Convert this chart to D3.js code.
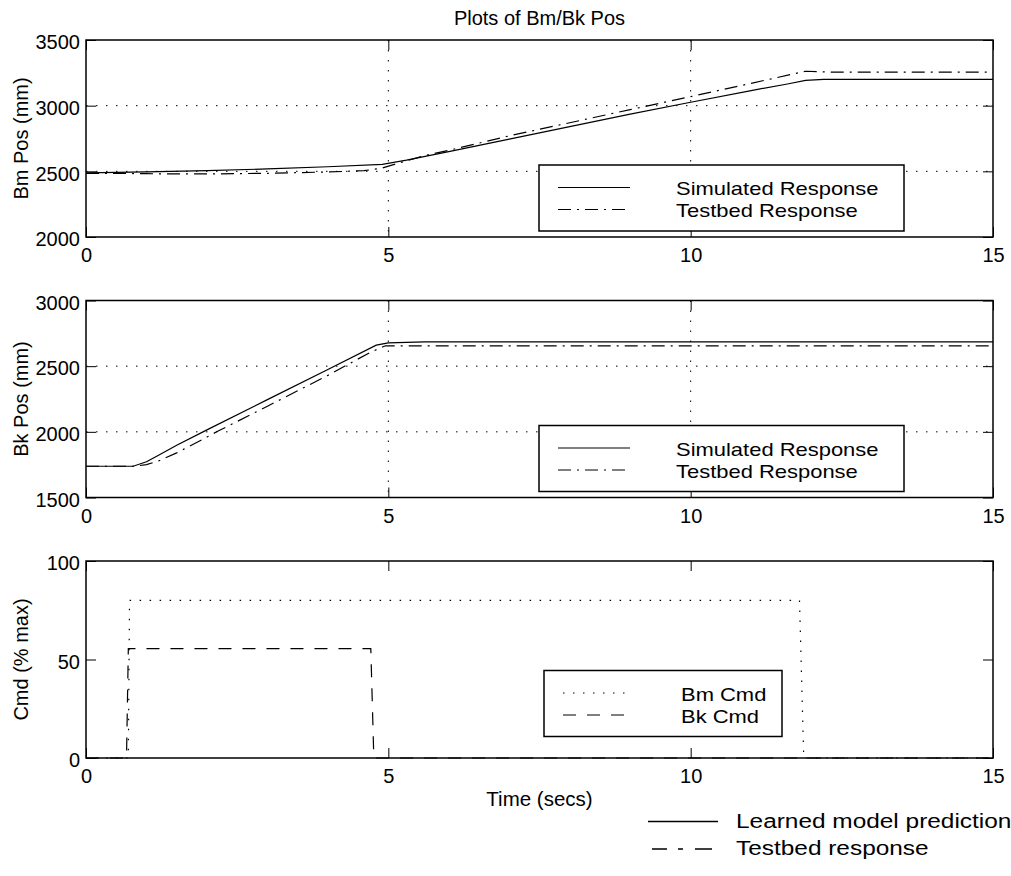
<!DOCTYPE html>
<html>
<head>
<meta charset="utf-8">
<script src="https://cdn.jsdelivr.net/npm/d3@7/dist/d3.min.js"></script>
<style>
  body { margin: 0; background: #fff; }
  text { font-family: "Liberation Sans", Arial, Helvetica, sans-serif; fill: #000; }
</style>
</head>
<body>
<div id="vis"></div>
<script>
// ---- data ----
var timeTicks = [0, 5, 10, 15];

// Bm position (mm)
var bmSimTime = [0, 1, 2, 3, 4, 4.9, 5.3, 6, 7, 8, 9, 10, 11, 11.6, 11.9, 12.2, 15];
var bmSimPos  = [2488, 2496, 2506, 2518, 2535, 2553, 2585, 2650, 2745, 2840, 2935, 3026, 3115, 3165, 3192, 3200, 3200];
var bmTestTime = [0, 0.5, 1, 1.5, 2, 3, 4, 4.6, 4.9, 5.3, 5.6, 6, 7, 8, 9, 10, 11, 11.9, 12.3, 13, 15];
var bmTestPos  = [2485, 2485, 2482, 2480, 2480, 2485, 2495, 2505, 2525, 2580, 2620, 2660, 2770, 2870, 2970, 3069, 3170, 3262, 3256, 3255, 3255];
var bmTicks = [2000, 2500, 3000, 3500];

// Bk position (mm)
var bkSimTime = [0, 0.78, 1, 1.2, 1.5, 2, 3, 4, 4.8, 5, 5.6, 15];
var bkSimPos  = [1738, 1738, 1772, 1822, 1898, 2015, 2245, 2475, 2660, 2678, 2685, 2685];
var bkTestTime = [0, 0.8, 1, 1.2, 1.5, 2, 2.16, 3, 4, 4.7, 4.95, 15];
var bkTestPos  = [1738, 1738, 1750, 1778, 1840, 1960, 2000, 2195, 2430, 2605, 2655, 2655];
var bkTicks = [1500, 2000, 2500, 3000];

// commands (% max)
var bmCmdTime = [0, 0.70, 0.72, 11.80, 11.87, 15];
var bmCmdVal  = [0, 0, 80, 80, 0, 0];
var bkCmdTime = [0, 0.67, 0.70, 4.71, 4.76, 15];
var bkCmdVal  = [0, 0, 55.5, 55.5, 0, 0];
var cmdTicks = [0, 50, 100];

var chartTitle = 'Plots of Bm/Bk Pos';
var responseNames = ['Simulated Response', 'Testbed Response'];
var cmdNames = ['Bm Cmd', 'Bk Cmd'];
var footNames = ['Learned model prediction', 'Testbed response'];

// ---- layout ----
var width = 1011;
var height = 876;
var left = 86;
var right = 993;
var panelH = 197;
var dotted = '1.5,8.5';
var dashDot = '13,6,2,6';
var dashed = '13,11';

var svg = d3.select('#vis')
  .append('svg')
  .attr('width', width)
  .attr('height', height);

var x = d3.scaleLinear().domain([0, 15]).range([left, right]);

// the original type is set a little wider than Liberation Sans, so stretch it
function stretchText(sel, ratio) {
  sel.each(function () {
    var t = d3.select(this);
    var w = this.getComputedTextLength();
    t.attr('textLength', w * ratio).attr('lengthAdjust', 'spacingAndGlyphs');
  });
}

function drawPanel(top, yDomain, yTicks, yLabel, grid) {
  var y = d3.scaleLinear().domain(yDomain).range([top + panelH, top]);
  var g = svg.append('g');

  if (grid) {
    g.selectAll('.hgrid')
      .data(yTicks.slice(1, -1))
      .enter()
      .append('line')
      .attr('x1', left)
      .attr('x2', right)
      .attr('y1', function (d) { return y(d); })
      .attr('y2', function (d) { return y(d); })
      .attr('stroke', '#000')
      .attr('stroke-width', 1)
      .attr('stroke-dasharray', dotted);

    g.selectAll('.vgrid')
      .data(timeTicks.slice(1, -1))
      .enter()
      .append('line')
      .attr('x1', function (d) { return x(d); })
      .attr('x2', function (d) { return x(d); })
      .attr('y1', top)
      .attr('y2', top + panelH)
      .attr('stroke', '#000')
      .attr('stroke-width', 1)
      .attr('stroke-dasharray', dotted);
  }

  var axLeft = g.append('g')
    .attr('transform', 'translate(' + left + ',0)')
    .call(d3.axisLeft(y).tickValues(yTicks).tickFormat(d3.format('d'))
      .tickSize(-10).tickSizeOuter(0).tickPadding(6));
  axLeft.selectAll('text').attr('dy', '0.44em');

  g.append('g')
    .attr('transform', 'translate(' + right + ',0)')
    .call(d3.axisRight(y).tickValues(yTicks).tickSize(-10).tickSizeOuter(0).tickFormat(''));

  g.append('g')
    .attr('transform', 'translate(0,' + top + ')')
    .call(d3.axisTop(x).tickValues(timeTicks).tickSize(-10).tickSizeOuter(0).tickFormat(''));

  g.append('g')
    .attr('transform', 'translate(0,' + (top + panelH) + ')')
    .call(d3.axisBottom(x).tickValues(timeTicks).tickFormat(d3.format('d'))
      .tickSize(-10).tickSizeOuter(0).tickPadding(11));

  g.selectAll('.domain').remove();
  g.selectAll('.tick line').attr('stroke', '#000').attr('stroke-width', 1);
  g.selectAll('.tick text')
    .style('font-size', '20px')
    .style('font-family', '"Liberation Sans", Arial, Helvetica, sans-serif')
    .attr('fill', '#000');

  g.append('rect')
    .attr('x', left)
    .attr('y', top)
    .attr('width', right - left)
    .attr('height', panelH)
    .attr('fill', 'none')
    .attr('stroke', '#000')
    .attr('stroke-width', 1.5);

  g.append('text')
    .attr('transform', 'translate(28,' + (top + panelH / 2) + ') rotate(-90)')
    .attr('text-anchor', 'middle')
    .style('font-size', '20px')
    .text(yLabel);

  return { g: g, y: y };
}

function drawSeries(panel, times, values, dash) {
  var line = d3.line()
    .x(function (d) { return x(d[0]); })
    .y(function (d) { return panel.y(d[1]); });

  panel.g.append('path')
    .datum(d3.zip(times, values))
    .attr('d', line)
    .attr('fill', 'none')
    .attr('stroke', '#000')
    .attr('stroke-width', 1.2)
    .attr('stroke-dasharray', dash);
}

function drawLegend(panel, bx, by, bw, bh, names, dashes, sampleW) {
  var lg = panel.g.append('g').attr('transform', 'translate(' + bx + ',' + by + ')');
  lg.append('rect')
    .attr('width', bw)
    .attr('height', bh)
    .attr('fill', '#fff')
    .attr('stroke', '#000')
    .attr('stroke-width', 1.5);

  names.forEach(function (name, i) {
    lg.append('line')
      .attr('x1', 19)
      .attr('x2', 19 + sampleW)
      .attr('y1', 22.5 + i * 22)
      .attr('y2', 22.5 + i * 22)
      .attr('stroke', '#000')
      .attr('stroke-width', 1.2)
      .attr('stroke-dasharray', dashes[i]);
    lg.append('text')
      .attr('class', 'legend-text')
      .attr('x', 137)
      .attr('y', 30 + i * 22)
      .style('font-size', '19px')
      .text(name);
  });
}

// title
svg.append('text')
  .attr('x', (left + right) / 2)
  .attr('y', 25)
  .attr('text-anchor', 'middle')
  .style('font-size', '20px')
  .text(chartTitle);

// panel 1: Bm position
var p1 = drawPanel(40, [2000, 3500], bmTicks, 'Bm Pos (mm)', true);
drawSeries(p1, bmSimTime, bmSimPos, null);
drawSeries(p1, bmTestTime, bmTestPos, dashDot);
drawLegend(p1, 539, 165, 365, 66, responseNames, [null, dashDot], 72);

// panel 2: Bk position
var p2 = drawPanel(300.5, [1500, 3000], bkTicks, 'Bk Pos (mm)', true);
drawSeries(p2, bkSimTime, bkSimPos, null);
drawSeries(p2, bkTestTime, bkTestPos, dashDot);
drawLegend(p2, 539, 425.5, 365, 66, responseNames, [null, dashDot], 72);

// panel 3: commands
var p3 = drawPanel(561, [0, 100], cmdTicks, 'Cmd (% max)', false);
drawSeries(p3, bmCmdTime, bmCmdVal, dotted);
drawSeries(p3, bkCmdTime, bkCmdVal, dashed);
drawLegend(p3, 544, 670.5, 238, 66, cmdNames, [dotted, dashed], 66);

stretchText(svg.selectAll('.legend-text'), 1.155);

svg.append('text')
  .attr('x', (left + right) / 2)
  .attr('y', 806)
  .attr('text-anchor', 'middle')
  .style('font-size', '20.5px')
  .text('Time (secs)');

// footer legend
var foot = svg.append('g');
foot.append('line')
  .attr('x1', 648).attr('x2', 718)
  .attr('y1', 821.5).attr('y2', 821.5)
  .attr('stroke', '#000').attr('stroke-width', 1.3);
foot.append('line')
  .attr('x1', 652).attr('x2', 727)
  .attr('y1', 849).attr('y2', 849)
  .attr('stroke', '#000').attr('stroke-width', 1.3)
  .attr('stroke-dasharray', '15,11,5,12,17,100');
foot.selectAll('.foot')
  .data(footNames)
  .enter()
  .append('text')
  .attr('class', 'foot')
  .attr('x', 736)
  .attr('y', function (d, i) { return 828 + i * 27; })
  .style('font-size', '20px')
  .text(function (d) { return d; });

stretchText(foot.selectAll('.foot'), 1.22);
</script>
</body>
</html>
